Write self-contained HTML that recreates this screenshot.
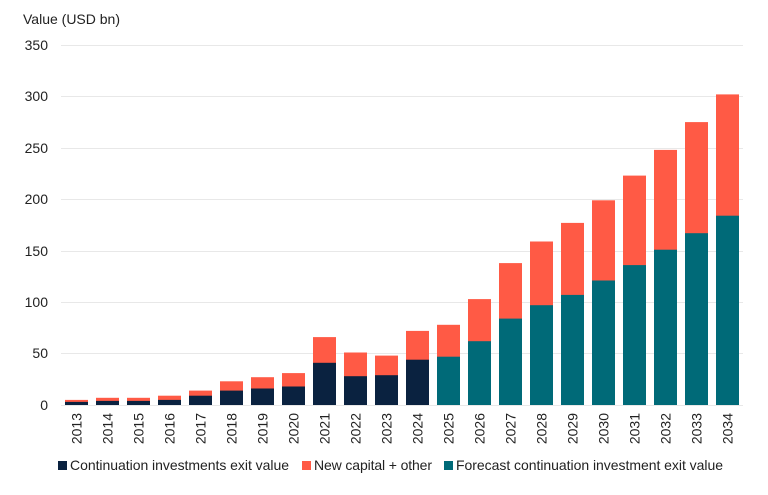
<!DOCTYPE html>
<html><head><meta charset="utf-8"><style>body{margin:0;background:#fff}svg{display:block;font-family:"Liberation Sans",sans-serif}</style></head><body>
<svg width="768" height="495" viewBox="0 0 768 495">
<text x="23" y="24" font-size="14" fill="#222">Value (USD bn)</text>
<g stroke="#e8e8e8" stroke-width="1">
<line x1="61" x2="743" y1="45.5" y2="45.5"/><line x1="61" x2="743" y1="96.5" y2="96.5"/><line x1="61" x2="743" y1="148.5" y2="148.5"/><line x1="61" x2="743" y1="199.5" y2="199.5"/><line x1="61" x2="743" y1="251.5" y2="251.5"/><line x1="61" x2="743" y1="302.5" y2="302.5"/><line x1="61" x2="743" y1="353.5" y2="353.5"/><line x1="61" x2="743" y1="405.5" y2="405.5"/>
</g>
<g font-size="14" fill="#222" text-anchor="end">
<text x="48" y="50">350</text><text x="48" y="101">300</text><text x="48" y="153">250</text><text x="48" y="204">200</text><text x="48" y="256">150</text><text x="48" y="307">100</text><text x="48" y="358">50</text><text x="48" y="410">0</text>
</g>
<g transform="translate(0,405) scale(1,-1)">
<g fill="#ff5a45">
<rect x="65" y="0" width="23" height="5.1"/><rect x="96" y="0" width="23" height="7.2"/><rect x="127" y="0" width="23" height="7.2"/><rect x="158" y="0" width="23" height="9.3"/><rect x="189" y="0" width="23" height="14.4"/><rect x="220" y="0" width="23" height="23.7"/><rect x="251" y="0" width="23" height="27.8"/><rect x="282" y="0" width="23" height="31.9"/><rect x="313" y="0" width="23" height="67.9"/><rect x="344" y="0" width="23" height="52.5"/><rect x="375" y="0" width="23" height="49.4"/><rect x="406" y="0" width="23" height="74.1"/><rect x="437" y="0" width="23" height="80.2"/><rect x="468" y="0" width="23" height="105.9"/><rect x="499" y="0" width="23" height="141.9"/><rect x="530" y="0" width="23" height="163.5"/><rect x="561" y="0" width="23" height="182.1"/><rect x="592" y="0" width="23" height="204.7"/><rect x="623" y="0" width="23" height="229.4"/><rect x="654" y="0" width="23" height="255.1"/><rect x="685" y="0" width="23" height="282.9"/><rect x="716" y="0" width="23" height="310.6"/>
</g>
<g fill="#0a2240">
<rect x="65" y="0" width="23" height="3.1"/><rect x="96" y="0" width="23" height="4.1"/><rect x="127" y="0" width="23" height="4.1"/><rect x="158" y="0" width="23" height="5.1"/><rect x="189" y="0" width="23" height="9.3"/><rect x="220" y="0" width="23" height="14.4"/><rect x="251" y="0" width="23" height="16.5"/><rect x="282" y="0" width="23" height="18.5"/><rect x="313" y="0" width="23" height="42.2"/><rect x="344" y="0" width="23" height="28.8"/><rect x="375" y="0" width="23" height="29.8"/><rect x="406" y="0" width="23" height="45.3"/>
</g>
<g fill="#006a78">
<rect x="437" y="0" width="23" height="48.3"/><rect x="468" y="0" width="23" height="63.8"/><rect x="499" y="0" width="23" height="86.4"/><rect x="530" y="0" width="23" height="99.8"/><rect x="561" y="0" width="23" height="110.1"/><rect x="592" y="0" width="23" height="124.5"/><rect x="623" y="0" width="23" height="139.9"/><rect x="654" y="0" width="23" height="155.3"/><rect x="685" y="0" width="23" height="171.8"/><rect x="716" y="0" width="23" height="189.3"/>
</g>
</g>
<g font-size="14" fill="#222" text-anchor="end">
<text transform="translate(81.5,413) rotate(-90)">2013</text><text transform="translate(112.5,413) rotate(-90)">2014</text><text transform="translate(143.5,413) rotate(-90)">2015</text><text transform="translate(174.5,413) rotate(-90)">2016</text><text transform="translate(205.5,413) rotate(-90)">2017</text><text transform="translate(236.5,413) rotate(-90)">2018</text><text transform="translate(267.5,413) rotate(-90)">2019</text><text transform="translate(298.5,413) rotate(-90)">2020</text><text transform="translate(329.5,413) rotate(-90)">2021</text><text transform="translate(360.5,413) rotate(-90)">2022</text><text transform="translate(391.5,413) rotate(-90)">2023</text><text transform="translate(422.5,413) rotate(-90)">2024</text><text transform="translate(453.5,413) rotate(-90)">2025</text><text transform="translate(484.5,413) rotate(-90)">2026</text><text transform="translate(515.5,413) rotate(-90)">2027</text><text transform="translate(546.5,413) rotate(-90)">2028</text><text transform="translate(577.5,413) rotate(-90)">2029</text><text transform="translate(608.5,413) rotate(-90)">2030</text><text transform="translate(639.5,413) rotate(-90)">2031</text><text transform="translate(670.5,413) rotate(-90)">2032</text><text transform="translate(701.5,413) rotate(-90)">2033</text><text transform="translate(732.5,413) rotate(-90)">2034</text>
</g>
<g font-size="14" fill="#222">
<rect x="58" y="461" width="9" height="9" fill="#0a2240"/><text x="70" y="470" textLength="219">Continuation investments exit value</text>
<rect x="302" y="461" width="9" height="9" fill="#ff5a45"/><text x="314" y="470" textLength="118">New capital + other</text>
<rect x="444" y="461" width="9" height="9" fill="#006a78"/><text x="456" y="470" textLength="267">Forecast continuation investment exit value</text>
</g>
</svg>
</body></html>
